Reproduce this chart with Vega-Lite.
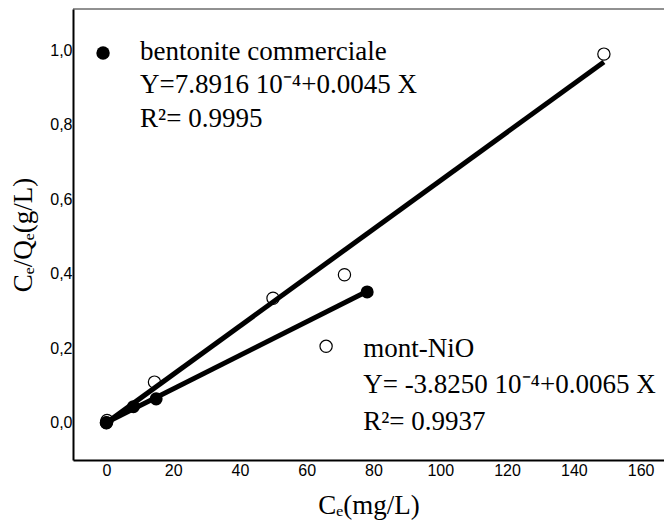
{
  "$schema": "https://vega.github.io/schema/vega-lite/v6.json",
  "width": 591,
  "height": 451,
  "autosize": "none",
  "padding": {"left": 73, "top": 9, "right": 0, "bottom": 62},
  "background": "white",
  "config": {
    "view": {"stroke": null},
    "axis": {
      "labelFont": "Liberation Sans",
      "labelFontSize": 16,
      "labelColor": "black",
      "titleFont": "Liberation Serif",
      "titleFontSize": 27,
      "titleFontWeight": "normal",
      "titleColor": "black",
      "domainColor": "black",
      "grid": false,
      "ticks": false
    }
  },
  "datasets": {
    "points": [
      {"series": "mont-NiO", "Ce": 0, "ratio": 0},
      {"series": "mont-NiO", "Ce": 0.2, "ratio": 0.006},
      {"series": "mont-NiO", "Ce": 14.4, "ratio": 0.109},
      {"series": "mont-NiO", "Ce": 49.9, "ratio": 0.334},
      {"series": "mont-NiO", "Ce": 65.8, "ratio": 0.205},
      {"series": "mont-NiO", "Ce": 71.3, "ratio": 0.397},
      {"series": "mont-NiO", "Ce": 149, "ratio": 0.989},
      {"series": "bentonite commerciale", "Ce": 0, "ratio": 0},
      {"series": "bentonite commerciale", "Ce": 8.1, "ratio": 0.043},
      {"series": "bentonite commerciale", "Ce": 14.9, "ratio": 0.064},
      {"series": "bentonite commerciale", "Ce": 78.1, "ratio": 0.351}
    ],
    "fits": [
      {"series": "mont-NiO", "Ce": 0, "ratio": -0.00038},
      {"series": "mont-NiO", "Ce": 149, "ratio": 0.968},
      {"series": "bentonite commerciale", "Ce": 0, "ratio": 0.00079},
      {"series": "bentonite commerciale", "Ce": 78, "ratio": 0.352}
    ],
    "labels": [
      {"Ce": 10.1, "ratio": 0.973, "text": "bentonite commerciale"},
      {"Ce": 10.1, "ratio": 0.885, "text": "Y=7.8916 10⁻⁴+0.0045 X"},
      {"Ce": 10.1, "ratio": 0.793, "text": "R²= 0.9995"},
      {"Ce": 76.9, "ratio": 0.176, "text": "mont-NiO"},
      {"Ce": 76.9, "ratio": 0.080, "text": "Y= -3.8250 10⁻⁴+0.0065 X"},
      {"Ce": 76.9, "ratio": -0.020, "text": "R²= 0.9937"}
    ],
    "legend": [
      {"Ce": -1.0, "ratio": 0.992}
    ],
    "frame": [
      {"top": 1.11}
    ]
  },
  "layer": [
    {
      "data": {"name": "points"},
      "transform": [{"filter": "datum.series === 'mont-NiO'"}],
      "mark": {"type": "point", "shape": "circle", "filled": false, "stroke": "black", "strokeWidth": 1.2, "size": 150, "opacity": 1},
      "encoding": {
        "x": {
          "field": "Ce", "type": "quantitative",
          "scale": {"domain": [-10, 167], "nice": false, "zero": false},
          "axis": {
            "title": "Cₑ(mg/L)",
            "values": [0, 20, 40, 60, 80, 100, 120, 140, 160],
            "domainWidth": 2,
            "labelPadding": 2,
            "titlePadding": 14,
            "labelFlush": false
          }
        },
        "y": {
          "field": "ratio", "type": "quantitative",
          "scale": {"domain": [-0.1, 1.11], "nice": false, "zero": false},
          "axis": {
            "title": "Cₑ/Qₑ(g/L)",
            "values": [0, 0.2, 0.4, 0.6, 0.8, 1.0],
            "labelExpr": "replace(format(datum.value, '.1f'), '.', ',')",
            "domainWidth": 2,
            "labelPadding": 1,
            "titlePadding": 12,
            "labelFlush": false
          }
        }
      }
    },
    {
      "data": {"name": "frame"},
      "mark": {"type": "rule", "stroke": "#222", "strokeWidth": 1},
      "encoding": {
        "y": {"field": "top", "type": "quantitative"}
      }
    },
    {
      "data": {"name": "fits"},
      "mark": {"type": "line", "stroke": "black", "strokeWidth": 5, "strokeCap": "butt"},
      "encoding": {
        "x": {"field": "Ce", "type": "quantitative"},
        "y": {"field": "ratio", "type": "quantitative"},
        "detail": {"field": "series"}
      }
    },
    {
      "data": {"name": "points"},
      "transform": [{"filter": "datum.series === 'bentonite commerciale'"}],
      "mark": {"type": "circle", "color": "black", "size": 170, "opacity": 1},
      "encoding": {
        "x": {"field": "Ce", "type": "quantitative"},
        "y": {"field": "ratio", "type": "quantitative"}
      }
    },
    {
      "data": {"name": "legend"},
      "mark": {"type": "circle", "color": "black", "size": 180, "opacity": 1},
      "encoding": {
        "x": {"field": "Ce", "type": "quantitative"},
        "y": {"field": "ratio", "type": "quantitative"}
      }
    },
    {
      "data": {"name": "labels"},
      "mark": {"type": "text", "font": "Liberation Serif", "fontSize": 27, "align": "left", "baseline": "alphabetic", "color": "black"},
      "encoding": {
        "x": {"field": "Ce", "type": "quantitative"},
        "y": {"field": "ratio", "type": "quantitative"},
        "text": {"field": "text"}
      }
    }
  ]
}
